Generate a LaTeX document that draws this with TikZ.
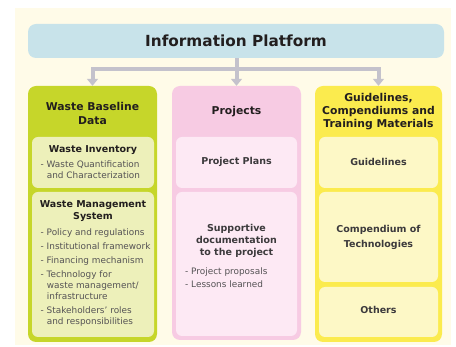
\documentclass[tikz,border=0pt]{standalone}
\usepackage{fontspec}
\setmainfont{DejaVu Sans}
\usetikzlibrary{arrows.meta}
\definecolor{bgc}{RGB}{255,251,232}
\definecolor{hdrc}{RGB}{200,227,234}
\definecolor{connc}{RGB}{196,194,204}
\definecolor{gout}{RGB}{198,214,42}
\definecolor{gin}{RGB}{237,240,186}
\definecolor{pout}{RGB}{247,203,227}
\definecolor{pin}{RGB}{253,233,244}
\definecolor{yout}{RGB}{251,235,78}
\definecolor{yin}{RGB}{253,248,198}
\definecolor{darkt}{RGB}{34,30,30}
\definecolor{subt}{RGB}{60,58,60}
\definecolor{bodyt}{RGB}{85,83,85}
\tikzset{
  outerbox/.style={rounded corners=8pt, inner sep=0pt, draw=none},
  innerbox/.style={rounded corners=6pt, inner sep=0pt, draw=none},
  conn/.style={draw=connc, line width=4pt},
  connarr/.style={conn, -{Triangle[width=11pt,length=7pt]}},
  colhead/.style={inner sep=0pt, align=center, text=darkt, font=\bfseries\fontsize{10.8}{14}\selectfont},
  subhead/.style={inner sep=0pt, align=center, text=subt, font=\bfseries\fontsize{9.5}{12}\selectfont},
  bodytxt/.style={inner sep=0pt, align=left, anchor=west, text=bodyt, font=\fontsize{8.9}{11}\selectfont},
}
\newcommand{\contind}{\hspace*{6.2pt}}
\begin{document}
\begin{tikzpicture}[x=1pt,y=-1pt]
\useasboundingbox (0,0) rectangle (456,347);
\fill[bgc] (15,8) rectangle (451,345);

% header
\node[outerbox, fill=hdrc, minimum width=416pt, minimum height=34pt, text=darkt,
      font=\bfseries\fontsize{15.3}{18}\selectfont] (ip) at (236,41) {Information Platform};

% columns
\node[outerbox, fill=gout, minimum width=129pt, minimum height=256pt] (wb) at (92.5,214) {};
\node[outerbox, fill=pout, minimum width=129pt, minimum height=254pt] (pr) at (236.5,213) {};
\node[outerbox, fill=yout, minimum width=127pt, minimum height=256pt] (gl) at (378.5,214) {};

% connectors
\coordinate (j) at (236.5,69);
\draw[conn] (ip.south -| j) -- (j);
\draw[connarr] (j) -| (wb.north);
\draw[connarr] (j) -| (gl.north);
\draw[connarr] (j) -- (pr.north);

% green column
\node[colhead] (wbt) at (92.5,113.3) {Waste Baseline\\Data};
\node[innerbox, fill=gin, minimum width=122pt, minimum height=51pt] (inv) at (93,162.5) {};
\node[innerbox, fill=gin, minimum width=122pt, minimum height=145pt] (wms) at (93,264.5) {};
\node[subhead, text=darkt] (invt) at (93,150) {Waste Inventory};
\node[bodytxt] (invb) at (40.5,170) {- Waste Quantification\\\contind and Characterization};
\node[subhead, text=darkt] (wmst) at (93,211) {Waste Management\\System};
\node[bodytxt, anchor=north west] (wmsb) at (40.5,228.5) {- Policy and regulations\\[3pt]
- Institutional framework\\[3pt]
- Financing mechanism\\[3pt]
- Technology for\\\contind waste management/\\\contind infrastructure\\[3pt]
- Stakeholders' roles\\\contind and responsibilities};

% pink column
\node[colhead] (prt) at (236.5,112) {Projects};
\node[innerbox, fill=pin, minimum width=121pt, minimum height=51pt] (pp) at (236.5,162.5) {};
\node[innerbox, fill=pin, minimum width=121pt, minimum height=144pt] (sd) at (236.5,264) {};
\node[subhead] (ppt) at (236.5,162) {Project Plans};
\node[subhead] (sdt) at (236.5,241) {Supportive\\documentation\\to the project};
\node[bodytxt, font=\fontsize{8.9}{13}\selectfont] (sdb) at (185,277.5) {- Project proposals\\- Lessons learned};

% yellow column
\node[colhead, font=\bfseries\fontsize{10.8}{13}\selectfont] (glt) at (378.5,112) {Guidelines,\\Compendiums and\\Training Materials};
\node[innerbox, fill=yin, minimum width=119pt, minimum height=51pt] (gd) at (378.5,162.5) {};
\node[innerbox, fill=yin, minimum width=119pt, minimum height=90pt] (cp) at (378.5,237) {};
\node[innerbox, fill=yin, minimum width=119pt, minimum height=50pt] (ot) at (378.5,312) {};
\node[subhead] (gdt) at (378.5,162) {Guidelines};
\node[subhead, font=\bfseries\fontsize{9.5}{15}\selectfont] (cpt) at (378.5,237) {Compendium of\\Technologies};
\node[subhead] (ott) at (378.5,310) {Others};
\end{tikzpicture}
\end{document}
